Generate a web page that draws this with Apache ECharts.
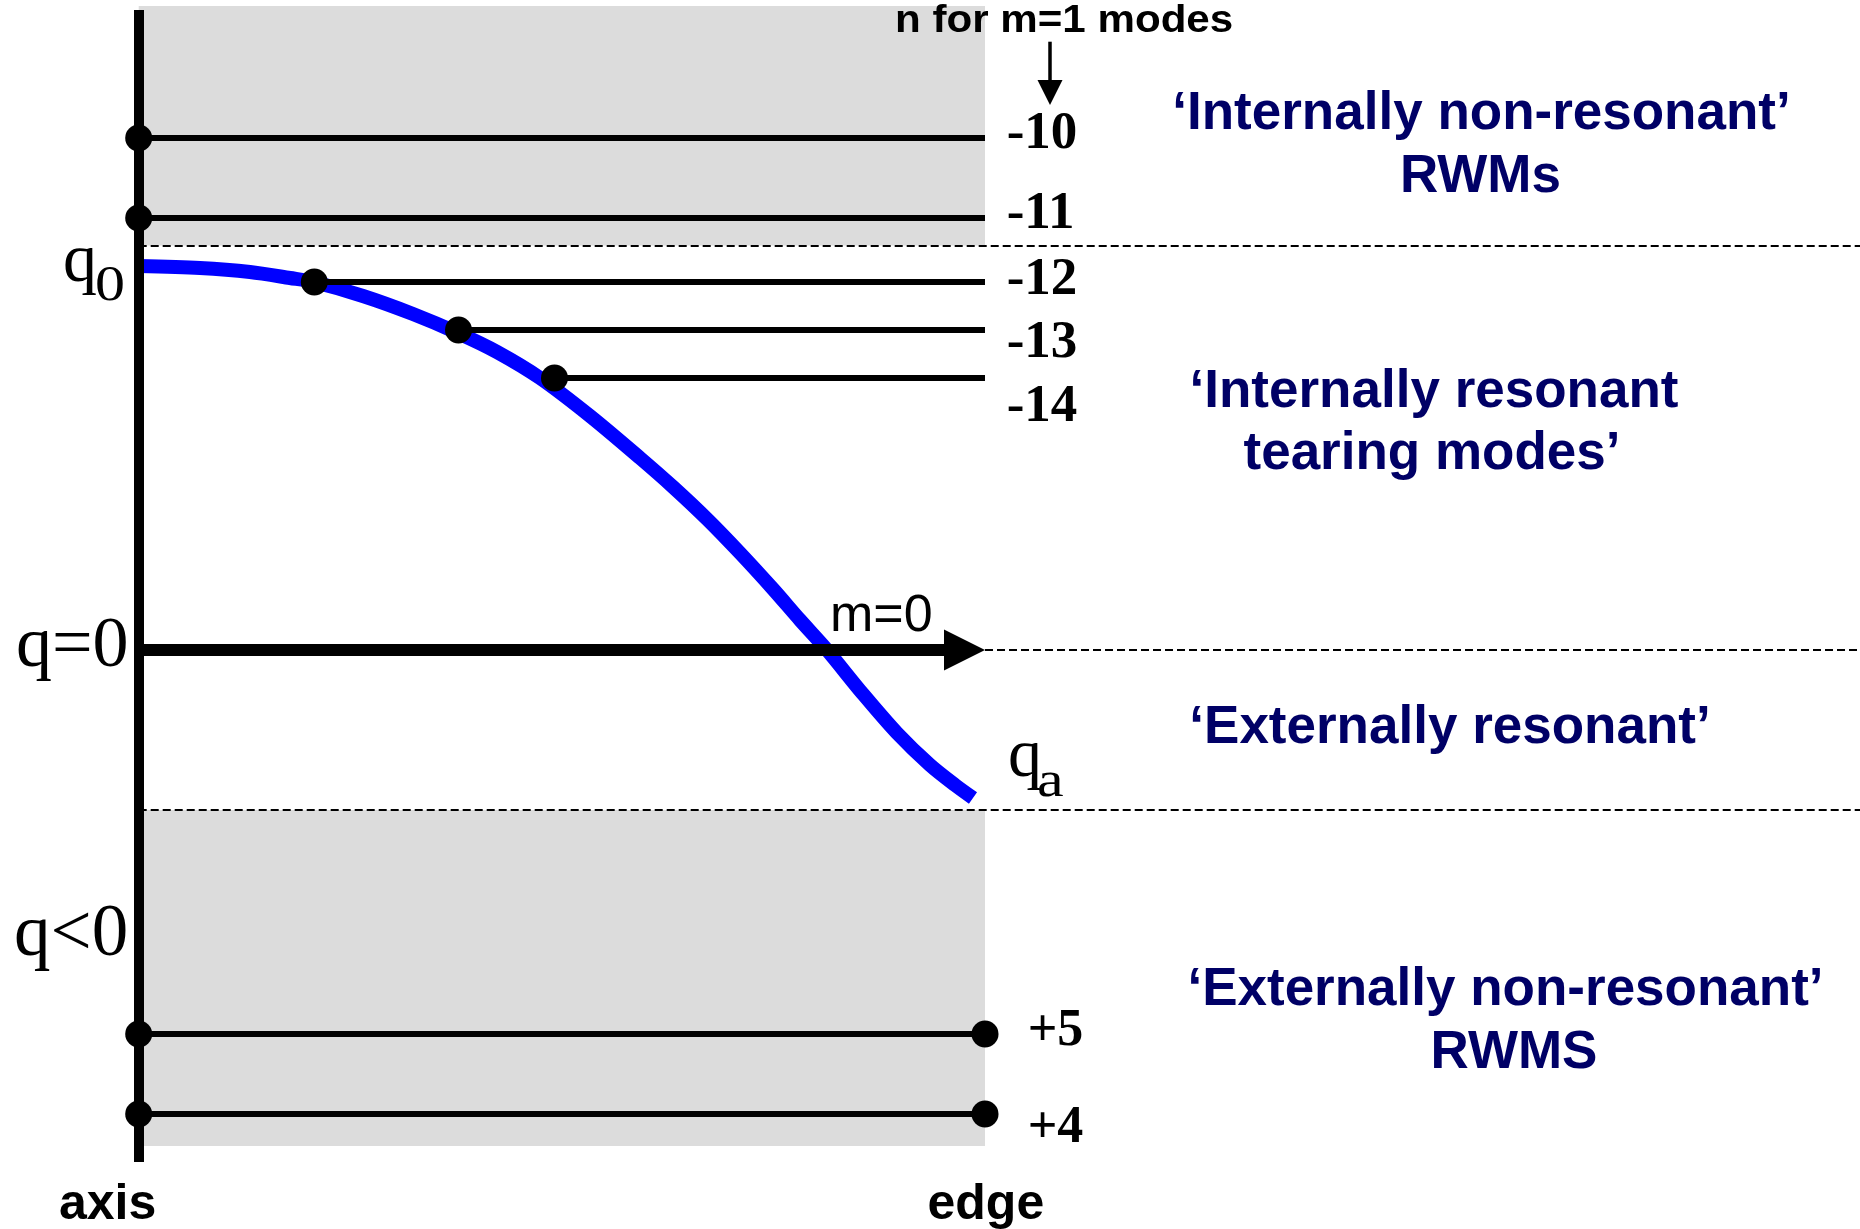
<!DOCTYPE html>
<html>
<head>
<meta charset="utf-8">
<title>q-profile and mode classification</title>
<script src="https://cdn.jsdelivr.net/npm/echarts@6/dist/echarts.min.js"></script>
<style>
  html, body { margin: 0; padding: 0; background: #ffffff; }
  #chart { width: 1860px; height: 1229px; }
</style>
</head>
<body>
<div id="chart"></div>
<script>
// Safety-factor profile q(r), r = 0 on axis, r = 1 at the edge (schematic units)
const profileR = [0, 0.0724, 0.1315, 0.1788, 0.2071, 0.2650, 0.3241, 0.3773, 0.4234, 0.4742,
                  0.5333, 0.5924, 0.6314, 0.6715, 0.7105, 0.7495, 0.7814, 0.8133, 0.8558,
                  0.8960, 0.9350, 0.9646, 0.9858];
const profileQ = [3.84, 3.82, 3.78, 3.72, 3.68, 3.54, 3.36, 3.17, 2.98, 2.72,
                  2.34, 1.92, 1.63, 1.31, 0.97, 0.61, 0.30, 0.00, -0.44,
                  -0.83, -1.15, -1.35, -1.48];

// m=1 modes with q > 0 (label = n, q level, radius of the marked surface)
const posModeLabels = ['-10', '-11', '-12', '-13', '-14'];
const posModeQ = [5.12, 4.32, 3.68, 3.20, 2.72];
const posModeR = [0, 0, 0.2075, 0.3779, 0.4913];

// m=1 modes with q < 0
const negModeLabels = ['+5', '+4'];
const negModeQ = [-3.84, -4.64];

// Boundaries between the regions: just above q0, and at qa
const boundaryQ = [4.045, -1.60];

// Region descriptions
const regionText = [
  ['\u2018Internally non-resonant\u2019', 'RWMs'],
  ['\u2018Internally resonant', 'tearing modes\u2019'],
  ['\u2018Externally resonant\u2019'],
  ['\u2018Externally non-resonant\u2019', 'RWMS']
];

// ---- layout ----
const X_MIN = -0.16389, X_MAX = 2.03391;   // r extent of the whole canvas
const Y_MIN = -5.79, Y_MAX = 6.50;         // q extent of the whole canvas
const PX_PER_R = 1860 / (X_MAX - X_MIN);
const AXIS_TOP_Q = 6.40, AXIS_BOTTOM_Q = -5.12;
const SHADE_TOP_Q = 6.44, SHADE_BOTTOM_Q = -4.96;
const SANS = '"Liberation Sans", Arial, sans-serif';
const SERIF = '"Liberation Serif", "Times New Roman", serif';
const NAVY = '#000066';

const modeLines = posModeQ.map((q, i) => [{ coord: [posModeR[i], q] }, { coord: [1, q] }])
  .concat(negModeQ.map(q => [{ coord: [0, q] }, { coord: [1, q] }]));

const markerPoints = posModeQ.map((q, i) => [posModeR[i], q])
  .concat(negModeQ.map(q => [0, q]))
  .concat(negModeQ.map(q => [1, q]));

// text helper: positions given by left/centre x and alphabetic baseline
function txt(str, x, baseline, size, family, opts) {
  opts = opts || {};
  const k = 0.29;
  const align = opts.align || 'left';
  return {
    type: 'text',
    x: x,
    y: baseline - k * size,
    scaleX: opts.scaleX || 1,
    z: 200,
    silent: true,
    style: {
      text: str,
      fill: opts.color || '#000000',
      fontSize: size,
      fontFamily: family,
      fontWeight: opts.bold ? 'bold' : 'normal',
      align: align, textAlign: align,
      verticalAlign: 'middle', textVerticalAlign: 'middle'
    }
  };
}

const graphics = [
  txt('n for m=1 modes', 895, 32.3, 39, SANS, { bold: true, scaleX: 1.08 }),
  txt('q', 63, 283, 68, SERIF), txt('0', 95, 301, 50, SERIF, { scaleX: 1.2 }),
  txt('q=0', 16, 668, 72, SERIF),
  txt('q<0', 14, 956.7, 73, SERIF),
  txt('m=0', 830, 631.7, 52, SANS),
  txt('q', 1008, 778, 68, SERIF), txt('a', 1037, 797, 50, SERIF, { scaleX: 1.2 }),
  txt('axis', 59, 1220, 50, SANS, { bold: true }),
  txt('edge', 927.5, 1220, 50, SANS, { bold: true })
];
const posLabelBaselines = [150, 230, 296, 359, 422.7];
posModeLabels.forEach((s, i) => graphics.push(txt(s, 1006.7, posLabelBaselines[i], 53, SERIF, { bold: true })));
const negLabelBaselines = [1046.7, 1143.3];
negModeLabels.forEach((s, i) => graphics.push(txt(s, 1027.7, negLabelBaselines[i], 52, SERIF, { bold: true })));
const regionLayout = [
  [[1481.5, 130], [1480.5, 192.7]],
  [[1434, 407.3], [1432, 469.3]],
  [[1450, 743.3]],
  [[1505.5, 1005.7], [1514, 1069]]
];
regionText.forEach((lines, i) => lines.forEach((s, j) => {
  const p = regionLayout[i][j];
  graphics.push(txt(s, p[0], p[1], 53, SANS, { bold: true, align: 'center', color: NAVY }));
}));

const arrowHead = 41;
const arrowEndR = 1 - (arrowHead / 2) / PX_PER_R;

const option = {
  animation: false,
  backgroundColor: '#ffffff',
  grid: { left: 0, right: 0, top: 0, bottom: 0, containLabel: false },
  xAxis: { type: 'value', min: X_MIN, max: X_MAX, show: false },
  yAxis: { type: 'value', min: Y_MIN, max: Y_MAX, show: false },
  series: [
    {
      // shaded non-resonant regions
      type: 'line', data: [], z: 1, silent: true,
      markArea: {
        silent: true,
        itemStyle: { color: '#dcdcdc' },
        data: [
          [{ coord: [0, SHADE_TOP_Q] }, { coord: [1, boundaryQ[0]] }],
          [{ coord: [0, boundaryQ[1]] }, { coord: [1, SHADE_BOTTOM_Q] }]
        ]
      }
    },
    {
      // dashed region boundaries
      type: 'line', data: [], z: 2, silent: true,
      markLine: {
        silent: true, symbol: 'none', label: { show: false },
        lineStyle: { color: '#000000', width: 2, type: [8, 4] },
        data: [
          [{ coord: [0, boundaryQ[0]] }, { coord: [X_MAX, boundaryQ[0]] }],
          [{ coord: [0, boundaryQ[1]] }, { coord: [X_MAX, boundaryQ[1]] }],
          [{ coord: [1, 0] }, { coord: [X_MAX, 0] }]
        ]
      }
    },
    {
      // q profile
      type: 'line', z: 3, silent: true,
      data: profileR.map((r, i) => [r, profileQ[i]]),
      showSymbol: false, smooth: 0.3,
      lineStyle: { color: '#0000ff', width: 14, cap: 'butt' }
    },
    {
      // m=1 mode lines
      type: 'line', data: [], z: 4, silent: true,
      markLine: {
        silent: true, symbol: 'none', label: { show: false },
        lineStyle: { color: '#000000', width: 6, type: 'solid' },
        data: modeLines
      }
    },
    {
      // m=0 arrow along q=0
      type: 'line', data: [], z: 5, silent: true,
      markLine: {
        silent: true, symbol: ['none', 'triangle'], symbolSize: arrowHead,
        label: { show: false },
        lineStyle: { color: '#000000', width: 12, type: 'solid' },
        itemStyle: { color: '#000000' },
        data: [[{ coord: [0, 0] }, { coord: [arrowEndR, 0] }]]
      }
    },
    {
      // magnetic axis (r = 0) line
      type: 'line', data: [], z: 6, silent: true,
      markLine: {
        silent: true, symbol: 'none', label: { show: false },
        lineStyle: { color: '#000000', width: 10, type: 'solid' },
        data: [[{ coord: [0, AXIS_TOP_Q] }, { coord: [0, AXIS_BOTTOM_Q] }]]
      }
    },
    {
      // pointer under the "n for m=1 modes" heading
      type: 'line', data: [], z: 6, silent: true,
      markLine: {
        silent: true, symbol: ['none', 'triangle'], symbolSize: 25,
        label: { show: false },
        lineStyle: { color: '#000000', width: 3.5, type: 'solid' },
        itemStyle: { color: '#000000' },
        data: [[{ coord: [1.0768, 6.083] }, { coord: [1.0768, 5.575] }]]
      }
    },
    {
      // resonance / boundary markers
      type: 'scatter', z: 10, silent: true,
      symbol: 'circle', symbolSize: 27,
      itemStyle: { color: '#000000', opacity: 1 },
      data: markerPoints
    }
  ],
  graphic: graphics
};

const chart = echarts.init(document.getElementById('chart'), null, { renderer: 'canvas' });
chart.setOption(option);
</script>
</body>
</html>
